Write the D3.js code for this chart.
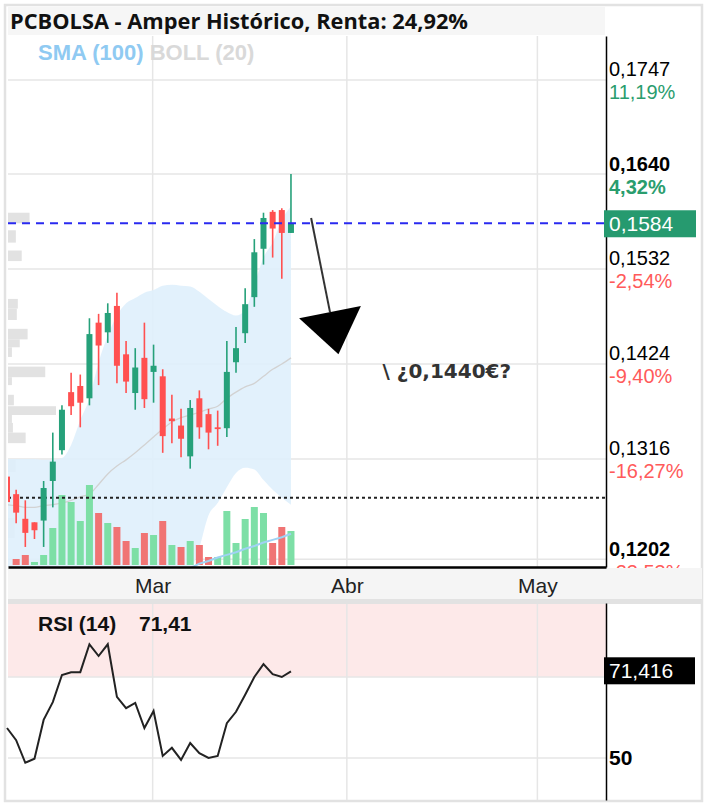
<!DOCTYPE html>
<html>
<head>
<meta charset="utf-8">
<script src="https://cdn.jsdelivr.net/npm/d3@7"></script>
<style>
  body { margin: 0; background: #fff; }
  svg { display: block; }
</style>
</head>
<body>
<svg id="chart" width="708" height="808"></svg>
<script>
// daily candles (index = trading session), prices in €
const open  = [0.1296,0.1276,0.1248,0.1244,0.1246,0.1291,0.1326,0.1392,0.1399,0.1385,0.1471,0.1460,0.1490,0.1435,0.1391,0.1431,0.1415,0.1410,0.1362,0.1354,0.1319,0.1385,0.1367,0.1352,0.1351,0.1426,0.1459,0.1500,0.1555,0.1597,0.1599,0.1573];
const close = [0.1267,0.1255,0.1232,0.1235,0.1283,0.1313,0.1372,0.1376,0.1380,0.1458,0.1445,0.1482,0.1422,0.1404,0.1420,0.1384,0.1422,0.1342,0.1359,0.1339,0.1374,0.1352,0.1346,0.1350,0.1415,0.1442,0.1492,0.1551,0.1590,0.1578,0.1573,0.1584];
const high  = [0.1301,0.1281,0.1269,0.1244,0.1291,0.1346,0.1377,0.1414,0.1412,0.1476,0.1481,0.1493,0.1505,0.1450,0.1442,0.1471,0.1446,0.1418,0.1389,0.1373,0.1383,0.1394,0.1373,0.1371,0.1450,0.1466,0.1510,0.1566,0.1596,0.1599,0.1601,0.1640];
const low   = [0.1260,0.1243,0.1216,0.1225,0.1216,0.1261,0.1321,0.1366,0.1352,0.1377,0.1400,0.1448,0.1402,0.1391,0.1372,0.1374,0.1380,0.1323,0.1334,0.1318,0.1305,0.1339,0.1327,0.1331,0.1341,0.1414,0.1448,0.1489,0.1537,0.1545,0.1521,0.1573];
const volume = [0,6,10,3,10,37,70,63,44,80,52,42,38,24,17,32,30,44,20,18,24,20,8,8,54,22,46,58,52,22,38,34];

// indicators
const bollUp  = [0.1316,0.1316,0.1316,0.1316,0.1315,0.1315,0.1317,0.1332,0.1360,0.1385,0.1426,0.1456,0.1479,0.1493,0.1499,0.1505,0.1508,0.1513,0.1514,0.1513,0.1512,0.1506,0.1498,0.1490,0.1483,0.1479,0.1485,0.1514,0.1545,0.1562,0.1588,0.1603];
const bollMid = [0.1264,0.1263,0.1261,0.1261,0.1263,0.1264,0.1266,0.1269,0.1273,0.1276,0.1287,0.1299,0.1308,0.1315,0.1323,0.1332,0.1341,0.1350,0.1358,0.1363,0.1366,0.1369,0.1373,0.1376,0.1385,0.1392,0.1398,0.1402,0.1410,0.1418,0.1424,0.1431];
const bollLow = [0.1185,0.1183,0.1181,0.1181,0.1183,0.1185,0.1186,0.1180,0.1172,0.1167,0.1147,0.1142,0.1138,0.1136,0.1147,0.1159,0.1165,0.1165,0.1172,0.1180,0.1188,0.1215,0.1252,0.1266,0.1284,0.1300,0.1306,0.1304,0.1292,0.1281,0.1272,0.1264];
const sma100  = [null,null,null,null,null,null,null,null,null,null,null,null,null,null,null,null,null,null,null,0.1189,0.1192,0.1197,0.1200,0.1204,0.1207,0.1210,0.1214,0.1217,0.1221,0.1224,0.1227,0.1231];
const rsi = [57.4,54.4,48.8,49.8,59.4,63.8,70.5,71.2,71.2,78.1,75.2,78.1,65.1,62.3,63.6,57.4,61.6,50.5,52.5,49.5,53.7,51.2,50.0,50.5,58.6,61.4,65.6,70.0,73.2,70.7,70.0,71.4];

// volume at price (left profile)
const profileHigh = [0.1596,0.1576,0.1553,0.1498,0.1487,0.1464,0.1452,0.1443,0.1421,0.1409,0.1389,0.1376,0.1366,0.1357,0.1346,0.1315,0.1249];
const profileLow  = [0.1584,0.1562,0.1541,0.1487,0.1474,0.1452,0.1443,0.1432,0.1409,0.1400,0.1377,0.1366,0.1357,0.1346,0.1334,0.1301,0.1226];
const profileVol  = [22,8,14,10,9,20,12,4,38,4,6,49,4,5,18,8,7];

// axis labels
const priceTicks = [0.1747,0.1640,0.1532,0.1424,0.1316,0.1202];
const pctTicks = ["11,19%","4,32%","-2,54%","-9,40%","-16,27%","-23,53%"];
const boldTicks = [0.1640,0.1202];
const monthLabels = ["Mar","Abr","May"];
const monthSlots = [15.9,37.1,57.9];

const lastPrice = 0.1584;
const refLevel = 0.1272;
const rsiLevels = [70,50];
const lastRsi = "71,416";

// annotation
const arrowFrom = [33.2,0.1590];
const arrowTo = [35.26,0.1483];
const targetText = "\\ ¿0,1440€?";
const targetAt = [41.0,0.1417];

const green = "#26a17a", red = "#ff5050";
const font = "'Liberation Sans', Arial, sans-serif";

const svg = d3.select("#chart");
const x = d3.scaleLinear().domain([0.11, 65.39]).range([8, 606]);
const y = d3.scaleLinear().domain([0.11932, 0.17969]).range([567, 36]);
const v = d3.scaleLinear().domain([0, 100]).range([565, 465]);
const r = d3.scaleLinear().domain([39.6, 88.3]).range([800, 603]);
const pv = d3.scaleLinear().domain([0, 50]).range([8, 57]);
const comma = d => d3.format(".4f")(d).replace(".", ",");
const idx = d3.range(open.length);

// outer frame
svg.append("rect").attr("x", 5).attr("y", 5).attr("width", 697).attr("height", 796)
  .attr("fill", "none").attr("stroke", "#e2e2e2").attr("stroke-width", 2.5);

// title bar
svg.append("rect").attr("x", 8).attr("y", 7).attr("width", 597).attr("height", 28).attr("fill", "#f6f6f6");
svg.append("text").attr("x", 10).attr("y", 29)
  .attr("font-family", "'Open Sans', sans-serif").attr("font-weight", 700).attr("font-size", 21.8)
  .attr("fill", "#111").text("PCBOLSA - Amper Histórico, Renta: 24,92%");

const clip = svg.append("clipPath").attr("id", "plot");
clip.append("rect").attr("x", 8).attr("y", 36).attr("width", 598).attr("height", 531);
const plot = svg.append("g").attr("clip-path", "url(#plot)");

// grid
plot.selectAll(".hg").data(priceTicks).join("line")
  .attr("x1", 8).attr("x2", 606).attr("y1", d => y(d)).attr("y2", d => y(d))
  .attr("stroke", "#e6e6e6").attr("stroke-width", 1.5);
plot.selectAll(".vg").data(monthSlots).join("line")
  .attr("x1", d => x(d)).attr("x2", d => x(d)).attr("y1", 36).attr("y2", 567)
  .attr("stroke", "#e6e6e6").attr("stroke-width", 1.5);

// volume profile
plot.selectAll(".pf").data(profileVol).join("rect")
  .attr("x", 8).attr("y", (d, i) => y(profileHigh[i]))
  .attr("width", d => pv(d) - 8).attr("height", (d, i) => y(profileLow[i]) - y(profileHigh[i]))
  .attr("fill", "#e2e2e2");

// bollinger
plot.append("path").datum(idx)
  .attr("d", d3.area().x(i => x(i)).y0(i => y(bollLow[i])).y1(i => y(bollUp[i])).curve(d3.curveMonotoneX))
  .attr("fill", "#dff0fc").attr("fill-opacity", 0.9);
plot.append("path").datum(idx)
  .attr("d", d3.line().x(i => x(i)).y(i => y(bollMid[i])).curve(d3.curveMonotoneX))
  .attr("fill", "none").attr("stroke", "#d2d2d2").attr("stroke-width", 1.3);

// volume bars
plot.selectAll(".vol").data(idx).join("rect")
  .attr("x", i => x(i) - 3.5).attr("width", 7)
  .attr("y", i => v(volume[i])).attr("height", i => v(0) - v(volume[i]))
  .attr("fill", i => (i > 0 && close[i] < close[i - 1]) ? "#f07474" : "#7ddfa6");

// sma 100
plot.append("path").datum(idx.filter(i => sma100[i] != null))
  .attr("d", d3.line().x(i => x(i)).y(i => y(sma100[i])))
  .attr("fill", "none").attr("stroke", "#9fd2f3").attr("stroke-width", 2);

// reference level
plot.append("line").attr("x1", 8).attr("x2", 606).attr("y1", y(refLevel)).attr("y2", y(refLevel))
  .attr("stroke", "#222").attr("stroke-width", 2).attr("stroke-dasharray", "3,3");

// candles
const c = plot.selectAll(".candle").data(idx).join("g");
c.append("line").attr("x1", i => x(i)).attr("x2", i => x(i))
  .attr("y1", i => y(high[i])).attr("y2", i => y(low[i]))
  .attr("stroke", i => close[i] >= open[i] ? green : red).attr("stroke-width", 1.6);
c.append("rect").attr("x", i => x(i) - 3).attr("width", 6)
  .attr("y", i => y(Math.max(open[i], close[i])))
  .attr("height", i => Math.max(1.5, Math.abs(y(open[i]) - y(close[i]))))
  .attr("fill", i => close[i] >= open[i] ? green : red);

// last price line
plot.append("line").attr("x1", 8).attr("x2", 606).attr("y1", y(lastPrice)).attr("y2", y(lastPrice))
  .attr("stroke", "#2a2af0").attr("stroke-width", 2).attr("stroke-dasharray", "8,6");

// legend
const legend = svg.append("text").attr("x", 38).attr("y", 60)
  .attr("font-family", font).attr("font-weight", 700).attr("font-size", 22);
legend.append("tspan").attr("fill", "#8fcaf2").text("SMA (100) ");
legend.append("tspan").attr("fill", "#d9d9d9").text("BOLL (20)");

// target annotation
const p0 = [x(arrowFrom[0]), y(arrowFrom[1])], p1 = [x(arrowTo[0]), y(arrowTo[1])];
const len = Math.hypot(p1[0] - p0[0], p1[1] - p0[1]);
const ux = (p1[0] - p0[0]) / len, uy = (p1[1] - p0[1]) / len;
svg.append("line").attr("x1", p0[0]).attr("y1", p0[1]).attr("x2", p1[0]).attr("y2", p1[1])
  .attr("stroke", "#333").attr("stroke-width", 2);
svg.append("path")
  .attr("d", d3.line()([[p1[0] - uy * 31.5, p1[1] + ux * 31.5], [p1[0] + uy * 31.5, p1[1] - ux * 31.5], [p1[0] + ux * 43, p1[1] + uy * 43]]) + "Z")
  .attr("fill", "#000");
svg.append("text").attr("x", x(targetAt[0])).attr("y", y(targetAt[1]) + 8)
  .attr("font-family", "'DejaVu Sans', sans-serif").attr("font-weight", 700).attr("font-size", 20).attr("fill", "#333")
  .text(targetText);

// right price axis: price on top of the grid line, change % below it
const gy = svg.append("g").attr("transform", "translate(606,0)")
  .call(d3.axisRight(y).tickValues(priceTicks).tickSize(0).tickSizeOuter(0).tickPadding(3).tickFormat(comma));
gy.select(".domain").attr("stroke", "#000").attr("stroke-width", 1.5);
gy.selectAll(".tick text").attr("dy", 0).attr("y", -4).attr("font-family", font).attr("font-size", 20)
  .attr("fill", "#000").attr("font-weight", d => boldTicks.includes(d) ? 700 : 400);
gy.selectAll(".tick").append("text").attr("x", 3).attr("y", 19)
  .attr("font-family", font).attr("font-size", 20)
  .attr("font-weight", d => d === 0.1640 ? 700 : 400)
  .attr("fill", (d, i) => pctTicks[i].startsWith("-") ? "#ff5a5a" : "#2a9d6e")
  .text((d, i) => pctTicks[i]);

// last price tag
svg.append("rect").attr("x", 604).attr("y", y(lastPrice) - 13).attr("width", 92).attr("height", 27).attr("fill", "#269a6f");
svg.append("text").attr("x", 609).attr("y", y(lastPrice) + 7.5)
  .attr("font-family", font).attr("font-size", 21).attr("fill", "#fff").text(comma(lastPrice));

// x axis band
svg.append("rect").attr("x", 8).attr("y", 568).attr("width", 694).attr("height", 31).attr("fill", "#f5f5f5");
svg.append("rect").attr("x", 8).attr("y", 599).attr("width", 694).attr("height", 5).attr("fill", "#e2e2e2");
const gx = svg.append("g").attr("transform", "translate(0,567)")
  .call(d3.axisBottom(x).tickValues(monthSlots).tickSize(0).tickSizeOuter(0).tickPadding(11)
    .tickFormat((d, i) => monthLabels[i]));
gx.select(".domain").attr("stroke", "#000").attr("stroke-width", 2.5);
gx.selectAll(".tick text").attr("font-family", font).attr("font-size", 21).attr("fill", "#222");

// RSI panel
svg.append("rect").attr("x", 8).attr("y", 604).attr("width", 598).attr("height", r(70) - 604).attr("fill", "#fde9e9");
svg.selectAll(".rg").data(rsiLevels).join("line")
  .attr("x1", 8).attr("x2", 606).attr("y1", d => r(d)).attr("y2", d => r(d))
  .attr("stroke", "#e6e6e6").attr("stroke-width", 1.5);
svg.selectAll(".rvg").data(monthSlots).join("line")
  .attr("x1", d => x(d)).attr("x2", d => x(d)).attr("y1", 604).attr("y2", 800)
  .attr("stroke", "#e6e6e6").attr("stroke-width", 1.5);
svg.append("path").datum(idx)
  .attr("d", d3.line().x(i => x(i)).y(i => r(rsi[i])))
  .attr("fill", "none").attr("stroke", "#222").attr("stroke-width", 2);
const rt = svg.append("text").attr("x", 38).attr("y", 631)
  .attr("font-family", font).attr("font-weight", 700).attr("font-size", 21).attr("fill", "#111");
rt.append("tspan").text("RSI (14)");
rt.append("tspan").attr("x", 139).text(d3.format(".2f")(rsi[rsi.length - 1] + 0.01).replace(".", ","));

const gr = svg.append("g").attr("transform", "translate(606,0)")
  .call(d3.axisRight(r).tickValues([50]).tickSize(0).tickSizeOuter(0).tickPadding(3));
gr.select(".domain").attr("stroke", "#000").attr("stroke-width", 1.5);
gr.selectAll(".tick text").attr("font-family", font).attr("font-weight", 700).attr("font-size", 21).attr("fill", "#000");
svg.append("rect").attr("x", 604).attr("y", r(71.416) - 14).attr("width", 91).attr("height", 27).attr("fill", "#000");
svg.append("text").attr("x", 609).attr("y", r(71.416) + 7)
  .attr("font-family", font).attr("font-size", 21).attr("fill", "#fff").text(lastRsi);
</script>
</body>
</html>
